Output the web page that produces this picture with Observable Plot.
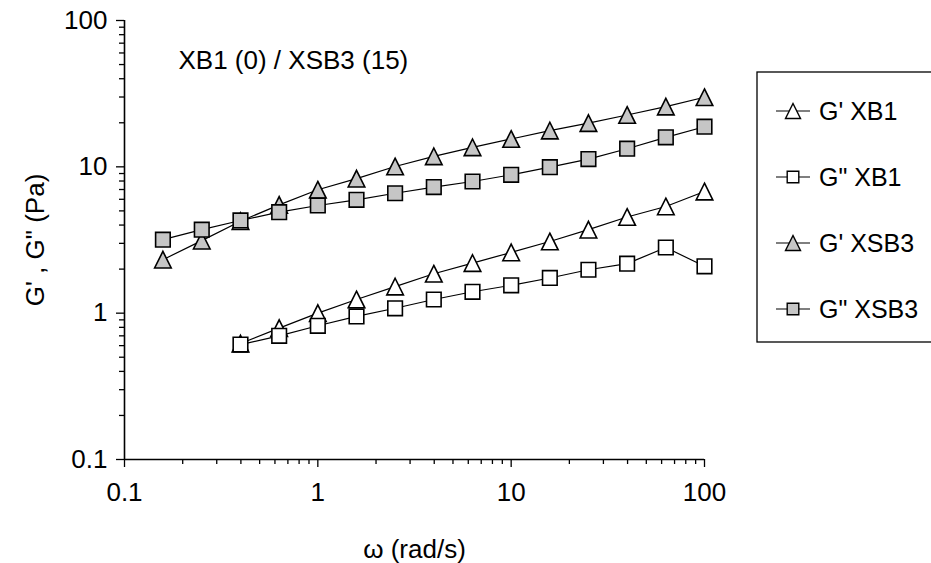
<!DOCTYPE html>
<html>
<head>
<meta charset="utf-8">
<script src="https://cdn.jsdelivr.net/npm/d3@7"></script>
<script src="https://cdn.jsdelivr.net/npm/@observablehq/plot@0.6"></script>
<style>
  html, body { margin: 0; padding: 0; background: #fff; }
  #chart svg { display: block; }
</style>
</head>
<body>
<div id="chart"></div>
<script>
// ---- data ----
const omega    = [0.158, 0.251, 0.398, 0.631, 1, 1.585, 2.51, 3.98, 6.31, 10, 15.85, 25.1, 39.8, 63.1, 100];
const gpXB1    = [null, null, 0.62, 0.79, 1.0, 1.24, 1.52, 1.86, 2.2, 2.6, 3.09, 3.72, 4.54, 5.36, 6.78];
const gppXB1   = [null, null, 0.61, 0.70, 0.82, 0.95, 1.08, 1.24, 1.40, 1.55, 1.74, 1.98, 2.18, 2.81, 2.09];
const gpXSB3   = [2.32, 3.13, 4.25, 5.5, 6.97, 8.3, 10.05, 11.8, 13.6, 15.5, 17.7, 19.9, 22.6, 25.8, 29.9];
const gppXSB3  = [3.18, 3.72, 4.3, 4.9, 5.44, 5.95, 6.6, 7.27, 7.94, 8.82, 9.95, 11.3, 13.3, 15.9, 18.8];
const seriesNames = ["G' XB1", "G\" XB1", "G' XSB3", "G\" XSB3"];
const xTicks = [0.1, 1, 10, 100];
const yTicks = [0.1, 1, 10, 100];
const title = "XB1 (0) / XSB3 (15)";
const xLabel = "ω (rad/s)";
const yLabel = "G' , G\" (Pa)";

// ---- symbols ----
const tri = { draw(ctx, size) { const s = Math.sqrt(size / Math.PI);
  ctx.moveTo(0, -s); ctx.lineTo(s, s); ctx.lineTo(-s, s); ctx.closePath(); } };
const sq = { draw(ctx, size) { const s = Math.sqrt(size / Math.PI);
  ctx.rect(-s, -s, 2 * s, 2 * s); } };

const grey = "#c6c6c6";
const styles = [
  {sym: tri, fill: "white", r: 8.3},
  {sym: sq, fill: "white", r: 7.3},
  {sym: tri, fill: grey, r: 8.3},
  {sym: sq, fill: grey, r: 7.3}
];
const allSeries = [gpXB1, gppXB1, gpXSB3, gppXSB3];
const rows = allSeries.map((vals, k) =>
  omega.map((w, i) => ({w, v: vals[i], s: seriesNames[k]})).filter(d => d.v != null));

const minor = [];
for (const dec of [0.1, 1, 10]) for (let m = 2; m <= 9; m++) minor.push(+(dec * m).toPrecision(3));

const font = "'Liberation Sans', Arial, Helvetica, sans-serif";
const W = 931, H = 563;
const mL = 124, mT = 20, mB = 104, mR = 227;

const marks = [
  Plot.axisX({ticks: minor, tickSize: 5, text: null, label: null, strokeWidth: 1.3}),
  Plot.axisX({ticks: xTicks, tickSize: 8, tickPadding: 15, tickFormat: d => String(d), fontSize: 26, label: null, strokeWidth: 1.3}),
  Plot.axisY({ticks: minor, tickSize: 5, text: null, label: null, strokeWidth: 1.3}),
  Plot.axisY({ticks: yTicks, tickSize: 8, tickPadding: 9, tickFormat: d => String(d), fontSize: 26, label: null, strokeWidth: 1.3}),
  Plot.ruleX([0.1], {stroke: "black", strokeWidth: 1.6}),
  Plot.ruleY([0.1], {stroke: "black", strokeWidth: 1.6}),
];
rows.forEach((data) => {
  marks.push(Plot.line(data, {x: "w", y: "v", stroke: "black", strokeWidth: 1.2}));
});
rows.forEach((data, k) => {
  marks.push(Plot.dot(data, {x: "w", y: "v", symbol: styles[k].sym, r: styles[k].r,
    fill: styles[k].fill, stroke: "black", strokeWidth: 1.6}));
});
marks.push(Plot.text([title], {frameAnchor: "top-left", dx: 54, dy: 30, fontSize: 26, textAnchor: "start", lineAnchor: "top"}));
marks.push(Plot.text([xLabel], {frameAnchor: "bottom", dy: 90, fontSize: 26, textAnchor: "middle", lineAnchor: "middle"}));
marks.push(Plot.text([yLabel], {frameAnchor: "left", dx: -89, rotate: -90, fontSize: 26, textAnchor: "middle", lineAnchor: "middle"}));

const chart = Plot.plot({
  width: W, height: H,
  marginLeft: mL, marginTop: mT, marginBottom: mB, marginRight: mR,
  style: {fontFamily: font, color: "black", background: "white", overflow: "visible"},
  x: {type: "log", domain: [0.1, 100], axis: null},
  y: {type: "log", domain: [0.1, 100], axis: null},
  marks
});
document.getElementById("chart").appendChild(chart);

// ---- legend (drawn into the same SVG) ----
const svg = d3.select(chart);
const lg = svg.append("g").attr("font-family", font).attr("text-anchor", "start");
lg.append("rect").attr("x", 757).attr("y", 72).attr("width", 200).attr("height", 270)
  .attr("fill", "none").attr("stroke", "black").attr("stroke-width", 1.3);
const rowY = [111, 177, 243, 309];
const legR = [7.5, 5.8, 7.5, 5.8];
seriesNames.forEach((name, k) => {
  const y = rowY[k];
  lg.append("line").attr("x1", 776).attr("x2", 810).attr("y1", y).attr("y2", y)
    .attr("stroke", "black").attr("stroke-width", 1.2);
  lg.append("path").attr("transform", `translate(793,${y})`)
    .attr("d", d3.symbol(styles[k].sym, Math.PI * legR[k] * legR[k])())
    .attr("fill", styles[k].fill).attr("stroke", "black").attr("stroke-width", 1.4);
  lg.append("text").attr("x", 819).attr("y", y).attr("dy", "0.35em")
    .attr("text-anchor", "start").attr("font-size", 25).text(name);
});
</script>
</body>
</html>
